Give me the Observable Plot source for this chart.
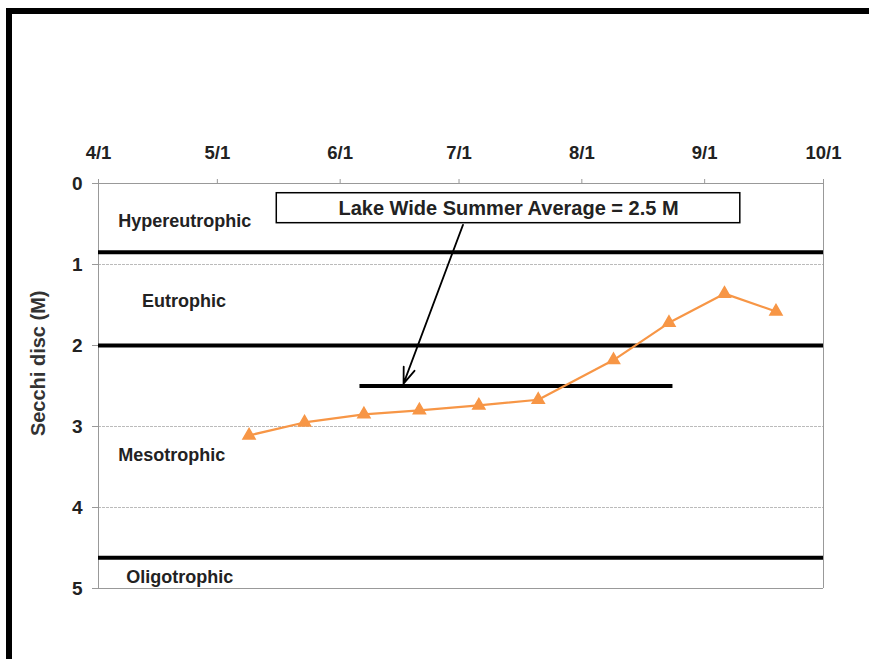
<!DOCTYPE html>
<html>
<head>
<meta charset="utf-8">
<script src="https://cdn.jsdelivr.net/npm/d3@7"></script>
<script src="https://cdn.jsdelivr.net/npm/@observablehq/plot@0.6"></script>
<style>
  html, body { margin: 0; padding: 0; background: #fff; }
  #wrap { position: relative; width: 869px; height: 659px; overflow: hidden; }
  #frame { position: absolute; left: 6px; top: 8px; width: 900px; height: 700px; border: 6px solid #000; box-sizing: border-box; pointer-events: none; }
  #chart { position: absolute; left: 0; top: 0; }
</style>
</head>
<body>
<div id="wrap"><div id="chart"></div><div id="frame"></div></div>
<script>
// Secchi disc readings
const sampleDates = ["2009-05-09","2009-05-23","2009-06-07","2009-06-21","2009-07-06","2009-07-21","2009-08-09","2009-08-23","2009-09-06","2009-09-19"];
const secchiDepths = [3.11, 2.95, 2.85, 2.80, 2.74, 2.67, 2.18, 1.72, 1.36, 1.58];

// Trophic boundaries and zone labels
const boundaryDepths = [0.85, 2.0, 4.62];
const zoneNames = ["Hypereutrophic", "Eutrophic", "Mesotrophic", "Oligotrophic"];
const zoneDepths = [0.47, 1.45, 3.35, 4.86];
const zoneDates = ["2009-04-06", "2009-04-12", "2009-04-06", "2009-04-08"];

// Summer average
const averageValue = 2.5;
const averageStart = "2009-06-06";
const averageEnd = "2009-08-24";
const averageLabel = "Lake Wide Summer Average = 2.5 M";
const labelBoxDates = ["2009-05-16", "2009-09-10"];
const labelBoxDepths = [0.12, 0.49];
const arrowFrom = {date: "2009-07-02", depth: 0.51};
const arrowTo = {date: "2009-06-17", depth: 2.47};

// Axis
const xDomain = ["2009-04-01", "2009-10-01"];
const yTicks = [0, 1, 2, 3, 4, 5];
const gridDepths = [1, 3, 4];
const yLabel = "Secchi disc (M)";

const D = s => new Date(s + "T00:00:00Z");
const data = sampleDates.map((d, i) => ({date: D(d), depth: secchiDepths[i]}));
const zones = zoneNames.map((n, i) => ({name: n, date: D(zoneDates[i]), depth: zoneDepths[i]}));
const boxMid = new Date((D(labelBoxDates[0]).getTime() + D(labelBoxDates[1]).getTime()) / 2);
const orange = "#F79646";
const font = "'Liberation Sans', Arial, sans-serif";

const chart = Plot.plot({
  width: 869,
  height: 659,
  marginLeft: 98,
  marginRight: 46,
  marginTop: 183,
  marginBottom: 71,
  style: {fontFamily: font, fontSize: "18px", fontWeight: "bold", color: "#222", background: "transparent", overflow: "visible"},
  x: {type: "utc", domain: xDomain.map(D), axis: null},
  y: {domain: [0, 5], reverse: true, axis: null},
  marks: [
    Plot.ruleY(gridDepths, {stroke: "#bbb", strokeWidth: 1, strokeDasharray: "3,1"}),
    Plot.ruleX(xDomain.map(D), {stroke: "#999", strokeWidth: 1}),
    Plot.ruleY([0, 5], {stroke: "#999", strokeWidth: 1}),
    Plot.axisX({
      anchor: "top",
      ticks: d3.utcMonth.range(D("2009-04-01"), D("2009-10-02")),
      tickFormat: d3.utcFormat("%-m/%-d"),
      tickSize: 5,
      tickPadding: 20,
      stroke: "#999",
      label: null,
      fontSize: 18.5,
      fontWeight: "bold"
    }),
    Plot.axisY({
      anchor: "left",
      ticks: yTicks,
      tickFormat: d3.format("d"),
      tickSize: 6,
      tickPadding: 10,
      stroke: "#999",
      label: null,
      fontSize: 19,
      fontWeight: "bold"
    }),
    Plot.text([yLabel], {
      x: D("2009-03-17"), y: 2.22, text: d => d, rotate: -90,
      fontSize: 20, fontWeight: "bold", fill: "#333"
    }),
    Plot.ruleY(boundaryDepths, {stroke: "#000", strokeWidth: 4}),
    Plot.ruleY([averageValue], {x1: D(averageStart), x2: D(averageEnd), stroke: "#000", strokeWidth: 4}),
    Plot.text(zones, {x: "date", y: "depth", text: "name", textAnchor: "start", fontSize: 18, fontWeight: "bold", fill: "#222"}),
    Plot.rect([{x1: D(labelBoxDates[0]), x2: D(labelBoxDates[1]), y1: labelBoxDepths[0], y2: labelBoxDepths[1]}],
      {x1: "x1", x2: "x2", y1: "y1", y2: "y2", fill: "#fff", stroke: "#000", strokeWidth: 1.5}),
    Plot.text([averageLabel], {
      x: boxMid, y: (labelBoxDepths[0] + labelBoxDepths[1]) / 2,
      text: d => d, fontSize: 20, fontWeight: "bold", fill: "#222"
    }),
    Plot.arrow([0], {
      x1: D(arrowFrom.date), y1: arrowFrom.depth, x2: D(arrowTo.date), y2: arrowTo.depth,
      stroke: "#000", strokeWidth: 1.8, headLength: 14, headAngle: 40
    }),
    Plot.line(data, {x: "date", y: "depth", stroke: orange, strokeWidth: 2.2}),
    Plot.dot(data, {x: "date", y: "depth", symbol: "triangle", fill: orange, stroke: orange, r: 4.5})
  ]
});
document.getElementById("chart").appendChild(chart);
</script>
</body>
</html>
